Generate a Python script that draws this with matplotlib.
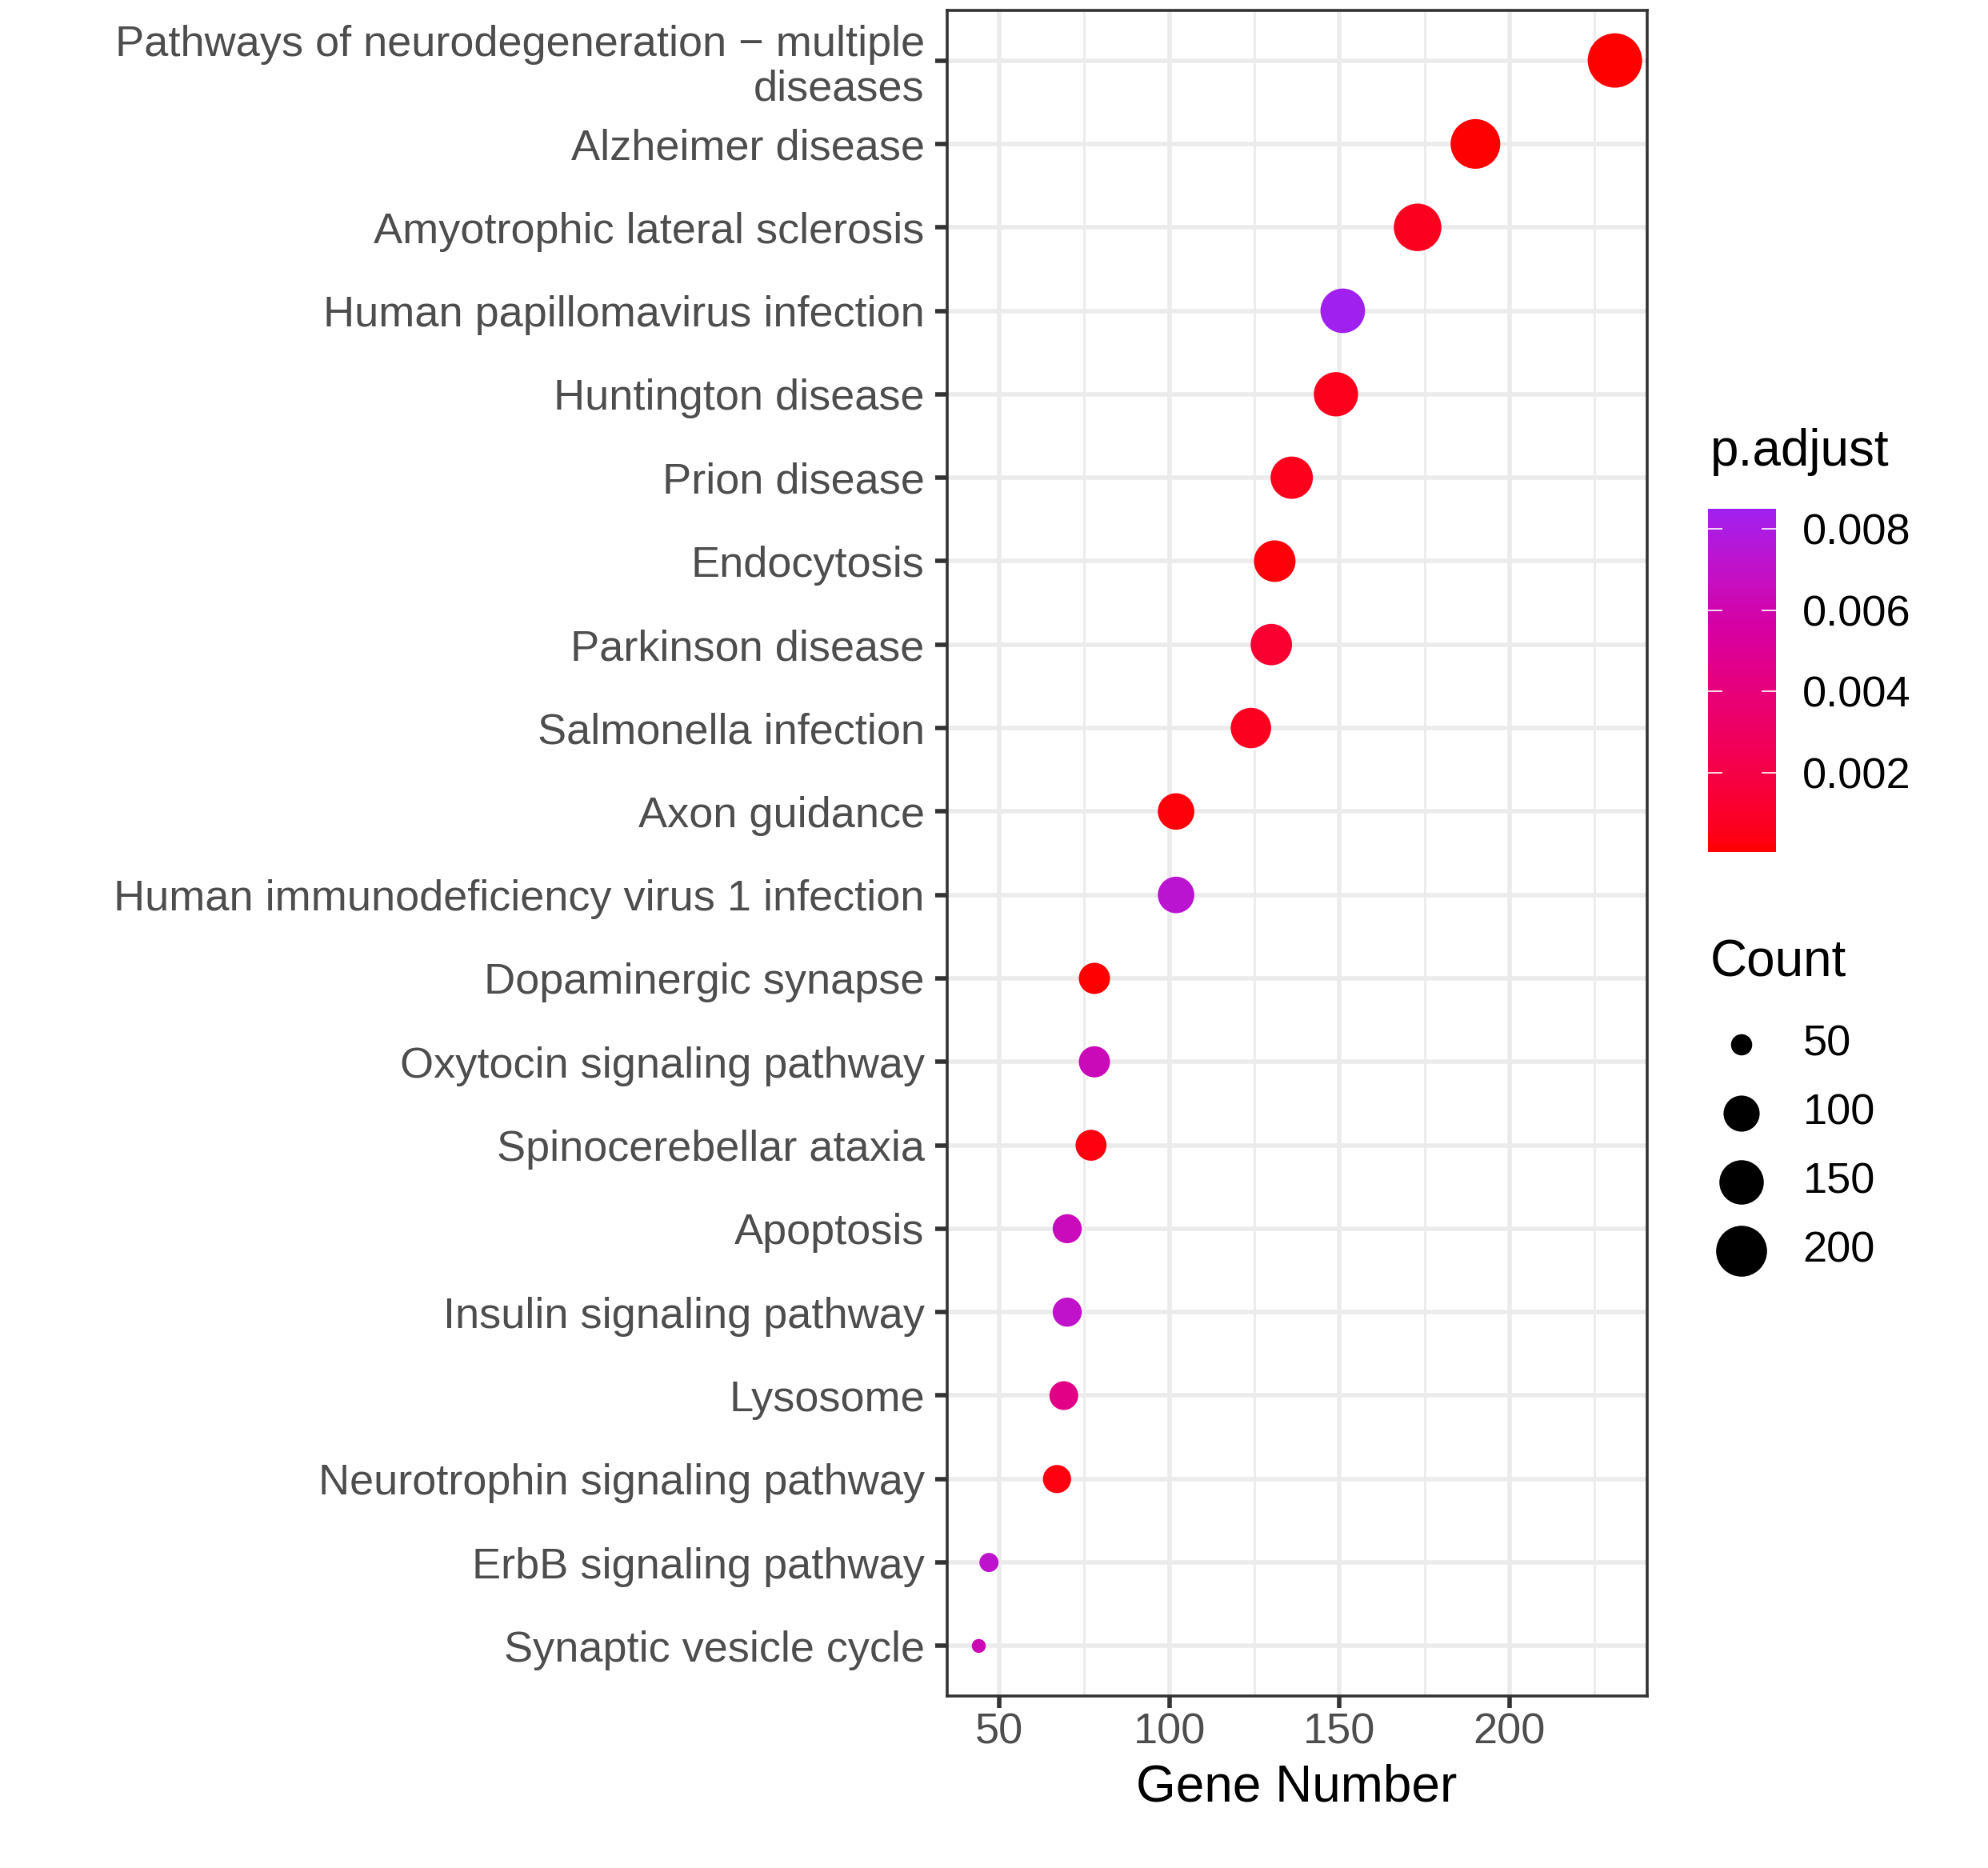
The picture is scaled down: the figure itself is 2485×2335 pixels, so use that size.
import numpy as np
import matplotlib
matplotlib.use("Agg")
import matplotlib.pyplot as plt
from matplotlib.colors import ListedColormap, Normalize

plt.rcParams['font.family'] = ['Liberation Sans', 'DejaVu Sans']

# KEGG dotplot data (top to bottom)
pathways = [
    "Pathways of neurodegeneration \u2212 multiple\ndiseases",
    "Alzheimer disease",
    "Amyotrophic lateral sclerosis",
    "Human papillomavirus infection",
    "Huntington disease",
    "Prion disease",
    "Endocytosis",
    "Parkinson disease",
    "Salmonella infection",
    "Axon guidance",
    "Human immunodeficiency virus 1 infection",
    "Dopaminergic synapse",
    "Oxytocin signaling pathway",
    "Spinocerebellar ataxia",
    "Apoptosis",
    "Insulin signaling pathway",
    "Lysosome",
    "Neurotrophin signaling pathway",
    "ErbB signaling pathway",
    "Synaptic vesicle cycle",
]
gene_count = [231, 190, 173, 151, 149, 136, 131, 130, 124, 102,
              102, 78, 78, 77, 70, 70, 69, 67, 47, 44]
p_adjust = [0.00004, 0.0001, 0.0007, 0.0085, 0.0006, 0.0006, 0.0002, 0.0012, 0.0007, 0.0002,
            0.0073, 0.0001, 0.0064, 0.0003, 0.0065, 0.0071, 0.0045, 0.0003, 0.0072, 0.0063]

size_breaks = [50, 100, 150, 200]
p_ticks = [0.002, 0.004, 0.006, 0.008]

W, H, DPI = 2485, 2335, 100


# ---- ggplot-like Lab gradient red -> purple ----
def srgb_to_lab(rgb):
    rgb = np.asarray(rgb, float)
    lin = np.where(rgb <= 0.04045, rgb / 12.92, ((rgb + 0.055) / 1.055) ** 2.4)
    M = np.array([[0.4124, 0.3576, 0.1805],
                  [0.2126, 0.7152, 0.0722],
                  [0.0193, 0.1192, 0.9505]])
    xyz = M @ lin / np.array([0.95047, 1.0, 1.08883])
    f = np.where(xyz > 0.008856, np.cbrt(xyz), 7.787 * xyz + 16 / 116)
    return np.array([116 * f[1] - 16, 500 * (f[0] - f[1]), 200 * (f[1] - f[2])])


def lab_to_srgb(lab):
    L, a, b = lab
    fy = (L + 16) / 116
    fx = fy + a / 500
    fz = fy - b / 200
    f = np.array([fx, fy, fz])
    xyz = np.where(f ** 3 > 0.008856, f ** 3, (f - 16 / 116) / 7.787)
    xyz = xyz * np.array([0.95047, 1.0, 1.08883])
    Minv = np.array([[3.2406, -1.5372, -0.4986],
                     [-0.9689, 1.8758, 0.0415],
                     [0.0557, -0.2040, 1.0570]])
    lin = np.clip(Minv @ xyz, 0, 1)
    rgb = np.where(lin <= 0.0031308, 12.92 * lin, 1.055 * lin ** (1 / 2.4) - 0.055)
    return np.clip(rgb, 0, 1)


lo = srgb_to_lab([1.0, 0.0, 0.0])
hi = srgb_to_lab([160 / 255, 32 / 255, 240 / 255])
cols = [lab_to_srgb(lo + (hi - lo) * t) for t in np.linspace(0, 1, 256)]
cmap = ListedColormap(cols)
norm = Normalize(vmin=min(p_adjust), vmax=max(p_adjust))

# ---- point sizes (area scale, like scale_size) ----
cmin, cmax = min(gene_count), max(gene_count)
dmin_px, dmax_px = 17.5, 68.0


def size_pt2(v):
    v = np.asarray(v, float)
    d = dmin_px + (dmax_px - dmin_px) * np.sqrt((v - cmin) / (cmax - cmin))
    return (d * 72.0 / DPI) ** 2


fig = plt.figure(figsize=(W / DPI, H / DPI), dpi=DPI)
fig.patch.set_facecolor('white')

ax = fig.add_axes([1183.5 / W, 1 - 2120 / H, (2058.6 - 1183.5) / W, (2120 - 13) / H])
n = len(pathways)
ypos = np.arange(n)[::-1]

ax.scatter(gene_count, ypos, s=size_pt2(gene_count), c=p_adjust, cmap=cmap, norm=norm,
           linewidths=0, zorder=3)

ax.set_xlim(34.6, 240.4)
ax.set_ylim(-0.6, n - 0.4)
ax.set_xticks([50, 100, 150, 200])
ax.set_xticks([75, 125, 175, 225], minor=True)
ax.set_yticks(ypos)
ax.set_yticklabels(pathways)
for lbl in ax.get_yticklabels():
    lbl.set_linespacing(1.15)

ax.grid(True, which='major', color='#EBEBEB', linewidth=4.0, zorder=0)
ax.grid(True, which='minor', axis='x', color='#EBEBEB', linewidth=2.0, zorder=0)
ax.set_axisbelow(True)
ax.tick_params(which='major', length=10.5, width=4.0, color='#333333',
               labelsize=39, labelcolor='#4D4D4D')
ax.tick_params(axis='y', pad=9.5)
ax.tick_params(axis='x', pad=4.5)
ax.tick_params(which='minor', length=0)
for sp in ax.spines.values():
    sp.set_color('#333333')
    sp.set_linewidth(2.6)
ax.set_xlabel("Gene Number", fontsize=46, color='black', labelpad=10)

# ---- p.adjust colorbar ----
cax = fig.add_axes([2135 / W, 1 - 1065 / H, 85 / W, 429 / H])
sm = plt.cm.ScalarMappable(cmap=cmap, norm=norm)
cb = fig.colorbar(sm, cax=cax, ticks=p_ticks)
cb.outline.set_visible(False)
cb.ax.set_yticklabels(["%.3f" % t for t in p_ticks])
cb.ax.yaxis.set_ticks_position('both')
cb.ax.tick_params(direction='in', length=13, width=1.2, color='white',
                  labelsize=39, labelcolor='black', pad=24,
                  left=True, right=True, labelleft=False, labelright=True)
fig.text(2138 / W, 1 - 582 / H, "p.adjust", fontsize=46, color='black',
         ha='left', va='baseline')

# ---- Count size legend ----
fig.text(2138 / W, 1 - 1221 / H, "Count", fontsize=46, color='black',
         ha='left', va='baseline')
lax = fig.add_axes([0, 0, 1, 1], facecolor='none')
lax.set_xlim(0, W)
lax.set_ylim(H, 0)
lax.axis('off')
key_y0, key_step = 1306, 86
key_y = key_y0 + key_step * np.arange(len(size_breaks))
lax.scatter(np.full(len(size_breaks), 2177), key_y, s=size_pt2(size_breaks),
            color='black', linewidths=0)
for yy, b in zip(key_y, size_breaks):
    lax.text(2253.5, yy, str(b), fontsize=39, color='black', ha='left', va='center')

fig.savefig("out.png", dpi=DPI, facecolor='white')
